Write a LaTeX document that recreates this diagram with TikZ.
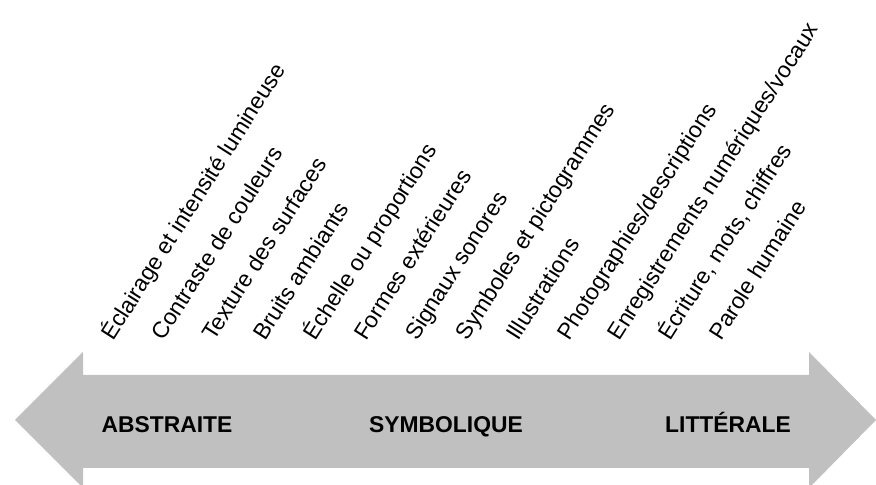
\documentclass[tikz,border=0pt]{standalone}
\usepackage{fontspec}
\setmainfont{Liberation Sans}
\usepackage{tikz}
\definecolor{arrowgray}{RGB}{192,192,192}

\begin{document}
\begin{tikzpicture}[x=0.03cm, y=0.03cm,
  lab/.style={anchor=base west, inner sep=0pt, rotate=57.5, font=\fontsize{19.5}{20}\selectfont},
  pole/.style={anchor=base, inner sep=0pt, font=\fontsize{19.5}{20}\selectfont\bfseries}]
  % canvas 876 x 485 px, y measured from the bottom
  \useasboundingbox (0,0) rectangle (876,485);
  % double arrow
  \fill[arrowgray] (15,65) -- (83,133) -- (83,110) -- (809,110) -- (809,133)
    -- (876,65) -- (809,-3) -- (809,17) -- (83,17) -- (83,-3) -- cycle;
  % poles
  \node[pole] (abs) at (167,52) {ABSTRAITE};
  \node[pole] (sym) at (446,52) {SYMBOLIQUE};
  \node[pole] (lit) at (728,52) {LITTÉRALE};
  % slanted labels, left to right
  \foreach \lab [count=\i from 0] in {%
      Éclairage et intensité lumineuse,
      Contraste de couleurs,
      Texture des surfaces,
      Bruits ambiants,
      Échelle ou proportions,
      Formes extérieures,
      Signaux sonores,
      Symboles et pictogrammes,
      Illustrations,
      Photographies/descriptions,
      Enregistrements numériques/vocaux,
      {Écriture, mots,  chiffres},
      Parole humaine}
    \node[lab] (lab\i) at ({113+50.67*\i},143) {\lab};
\end{tikzpicture}
\end{document}
